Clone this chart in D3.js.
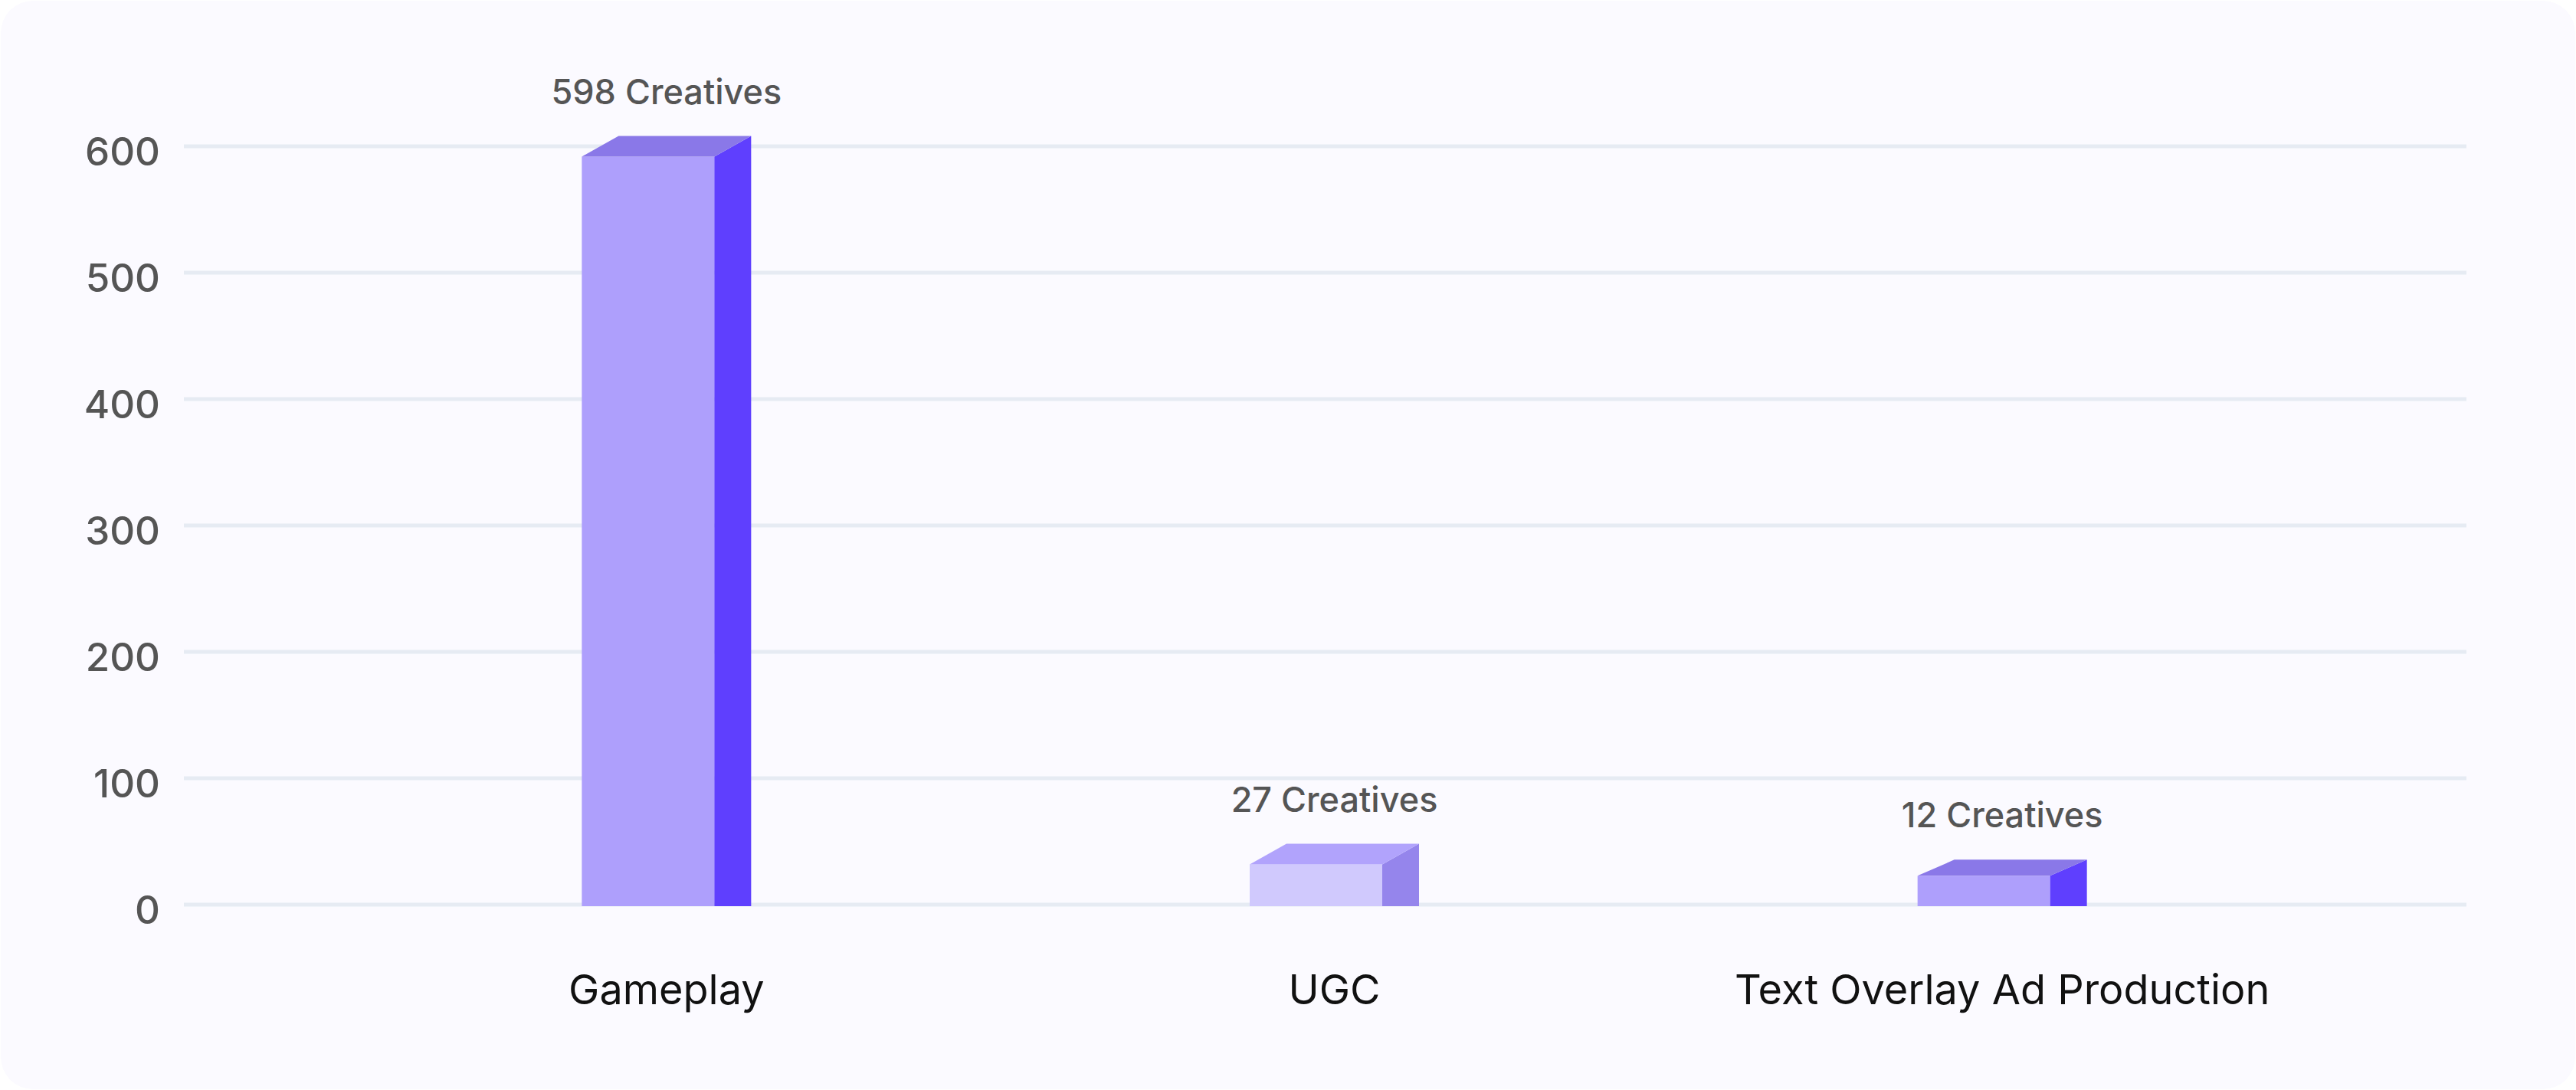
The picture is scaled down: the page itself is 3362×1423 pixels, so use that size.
<!DOCTYPE html>
<html>
<head>
<meta charset="utf-8">
<script src="https://cdn.jsdelivr.net/npm/d3@7"></script>
<style>
  html, body { margin: 0; padding: 0; background: #ffffff; }
  svg { display: block; }
</style>
</head>
<body>
<div id="chart"></div>
<script>
(function(){
  // categories and values (label counts), bar levels read against the axis
  const categories = ["Gameplay", "UGC", "Text Overlay Ad Production"];
  const counts = [598, 27, 12];
  const barLevels = [600, 40, 31];
  const yTicks = [0, 100, 200, 300, 400, 500, 600];
  const highlighted = [false, true, false];

  const width = 3362, height = 1423;
  const depthX = 48, frontW = 173;
  const topDepth = [27, 27, 21];

  const svg = d3.select("#chart").append("svg")
    .attr("width", width)
    .attr("height", height);

  // card background
  svg.append("rect")
    .attr("x", 1).attr("y", 1)
    .attr("width", width - 2).attr("height", height - 2)
    .attr("rx", 42).attr("ry", 42)
    .attr("fill", "#fbfaff");

  const y = d3.scaleLinear().domain([0, 600]).range([1181, 191]);
  const x = d3.scaleBand().domain(categories).range([434, 3049]).padding(0);

  // gridlines
  svg.append("g").selectAll("line")
    .data(yTicks)
    .enter().append("line")
    .attr("x1", 240).attr("x2", 3219)
    .attr("y1", d => y(d)).attr("y2", d => y(d))
    .attr("stroke", "#e6ebf3")
    .attr("stroke-width", 5);

  // y tick labels
  svg.append("g").selectAll("text")
    .data(yTicks)
    .enter().append("text")
    .attr("x", 209)
    .attr("y", d => y(d) + 25)
    .attr("text-anchor", "end")
    .attr("font-family", "Inter, 'Noto Sans', sans-serif")
    .attr("font-size", 51)
    .attr("font-weight", 500)
    .attr("fill", "#555555")
    .text(d => d);

  const palette = {
    normal: { front: "#ae9ffc", top: "#8a78e8", side: "#5f3ffe" },
    light:  { front: "#d0c9fd", top: "#b1a3fc", side: "#9585ec" }
  };

  const bars = categories.map((c, i) => ({
    name: c, count: counts[i], level: barLevels[i],
    colors: highlighted[i] ? palette.light : palette.normal,
    dy: topDepth[i]
  }));

  const g = svg.append("g");
  bars.forEach(d => {
    const cx = x(d.name) + x.bandwidth() / 2;
    const left = cx - (frontW + depthX) / 2;
    const right = left + frontW;
    const base = y(0) + 2;
    const front = y(d.level) + 13.5;
    const back = front - d.dy;

    // front face
    g.append("rect")
      .attr("x", left).attr("y", front)
      .attr("width", frontW).attr("height", base - front)
      .attr("fill", d.colors.front);
    // side face
    g.append("path")
      .attr("d", `M${right},${front}L${right + depthX},${back}L${right + depthX},${base}L${right},${base}Z`)
      .attr("fill", d.colors.side);
    // top face
    g.append("path")
      .attr("d", `M${left},${front}L${left + depthX},${back}L${right + depthX},${back}L${right},${front}Z`)
      .attr("fill", d.colors.top);

    // value label
    g.append("text")
      .attr("x", cx)
      .attr("y", back - 42)
      .attr("text-anchor", "middle")
      .attr("font-family", "Inter, 'Noto Sans', sans-serif")
      .attr("font-size", 45)
      .attr("font-weight", 500)
      .attr("fill", "#555555")
      .text(d.count + " Creatives");

    // category label
    g.append("text")
      .attr("x", cx)
      .attr("y", 1311)
      .attr("text-anchor", "middle")
      .attr("font-family", "Inter, 'Noto Sans', sans-serif")
      .attr("font-size", 54)
      .attr("fill", "#111111")
      .text(d.name);
  });
})();
</script>
</body>
</html>
